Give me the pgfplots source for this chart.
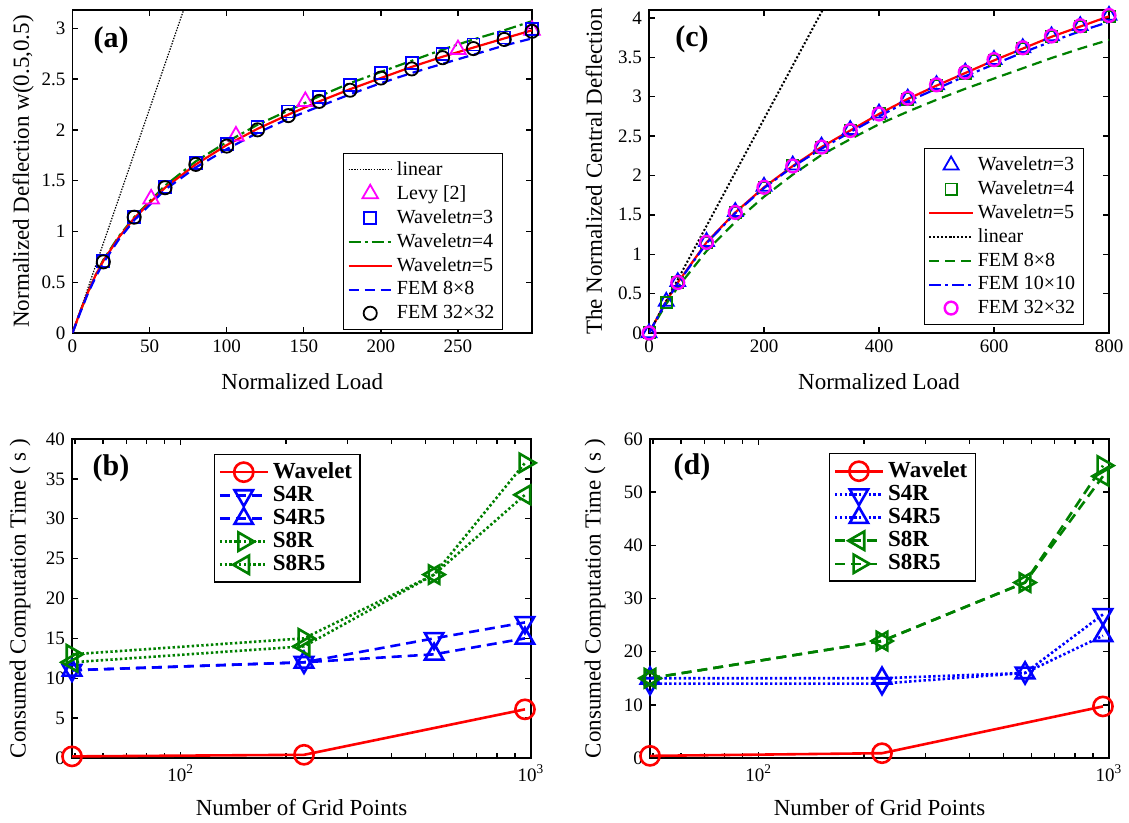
\documentclass[border=0pt]{standalone}
\usepackage{pgfplots}
\pgfplotsset{compat=1.18}
\usepackage{fontspec}
\setmainfont{Liberation Serif}
\definecolor{mgreen}{RGB}{0,128,0}
\definecolor{mblue}{RGB}{0,0,255}
\definecolor{mred}{RGB}{255,0,0}
\definecolor{mmag}{RGB}{255,0,255}

\pgfplotsset{
 mystyle/.style={
  scale only axis,
  axis line style={line width=0.9pt},
  every tick/.style={black, line width=0.7pt},
  tick align=inside,
  major tick length=3pt,
  minor tick length=2.5pt,
  /pgf/number format/assume math mode=true,
  tick label style={font=\fontsize{9.5}{10}\selectfont},
  label style={font=\fontsize{11.5}{12}\selectfont},
  legend cell align=left,
  legend image code/.code={\draw[mark repeat=2,mark phase=2,##1] plot coordinates {(0cm,0cm) (0.38cm,0cm) (0.76cm,0cm)};},
  legend style={font=\fontsize{10}{11}\selectfont, draw=black, line width=0.7pt, inner sep=2pt, row sep=-0.4pt},
 },
 ldot/.style={dash pattern=on 0.8pt off 0.8pt},
 ldash/.style={dash pattern=on 5pt off 3pt},
 ldd/.style={dash pattern=on 6pt off 2pt on 1.5pt off 2pt},
}

\begin{document}
\begin{tikzpicture}
\path[use as bounding box] (0,0) rectangle (564.5pt,411.5pt);

% ---------------- (a) ----------------
\begin{axis}[mystyle, at={(36.25pt,245pt)}, anchor=south west,
  width=229.75pt, height=161.5pt,
  xmin=0, xmax=298, ymin=0, ymax=3.18,
  xtick={0,50,...,250}, ytick={0,0.5,...,3},
  xlabel={Normalized Load}, ylabel={Normalized Deflection w(0.5,0.5)},
  xlabel style={at={(axis description cs:0.5,-0.1517)}, anchor=center},
  ylabel style={at={(axis description cs:-0.107,0.5)}, anchor=center},
  legend style={at={(0.937,0.009)}, anchor=south east}]
\addplot[black, line width=0.6pt, dash pattern=on 0.7pt off 0.7pt] coordinates {(0,0) (75,3.31)};
\addlegendentry{linear}
\addplot[only marks, mark=triangle, mark size=4.5pt, mmag, line width=0.9pt] coordinates {
(51,1.32) (106,1.94) (151,2.28) (250,2.79) (298,2.98)};
\addlegendentry{Levy [2]}
\addplot[only marks, mark=square, mark size=3pt, mblue, line width=0.9pt] coordinates {
(20,0.71) (40,1.14) (60,1.44) (80,1.67) (100,1.86) (120,2.03) (140,2.18) (160,2.32) (180,2.44) (200,2.56) (220,2.66) (240,2.75) (260,2.84) (280,2.91) (298,2.99)};
\addlegendentry{Wavelet\textit{n}=3}
\addplot[mgreen, line width=1.1pt, ldd] coordinates {
(0,0) (5,0.21) (10,0.40) (15,0.57) (20,0.72) (30,0.95) (40,1.14) (60,1.45) (80,1.69) (100,1.88) (120,2.05) (140,2.19) (160,2.33) (180,2.46) (200,2.57) (220,2.68) (240,2.79) (260,2.89) (280,2.98) (298,3.07)};
\addlegendentry{Wavelet\textit{n}=4}
\addplot[mred, line width=1.1pt] coordinates {
(0,0) (5,0.21) (10,0.40) (15,0.57) (20,0.71) (30,0.94) (40,1.13) (60,1.43) (80,1.66) (100,1.85) (120,2.01) (140,2.15) (160,2.28) (180,2.40) (200,2.51) (220,2.62) (240,2.72) (260,2.81) (280,2.90) (298,2.98)};
\addlegendentry{Wavelet\textit{n}=5}
\addplot[mblue, line width=1.1pt, ldash] coordinates {
(0,0) (5,0.20) (10,0.39) (15,0.55) (20,0.69) (30,0.92) (40,1.11) (60,1.41) (80,1.63) (100,1.81) (120,1.97) (140,2.11) (160,2.23) (180,2.35) (200,2.46) (220,2.56) (240,2.65) (260,2.74) (280,2.83) (298,2.90)};
\addlegendentry{FEM 8×8}
\addplot[only marks, mark=o, mark size=3.3pt, black, line width=0.9pt] coordinates {
(20,0.70) (40,1.14) (60,1.43) (80,1.66) (100,1.84) (120,2.00) (140,2.14) (160,2.28) (180,2.39) (200,2.51) (220,2.60) (240,2.71) (260,2.80) (280,2.89) (298,2.97)};
\addlegendentry{FEM 32×32}
\node at (rel axis cs:0.084,0.907) {\fontsize{15}{15}\selectfont\bfseries (a)};
\end{axis}

% ---------------- (c) ----------------
\begin{axis}[mystyle, at={(324.5pt,245pt)}, anchor=south west,
  width=230pt, height=161.5pt,
  xmin=0, xmax=800, ymin=0, ymax=4.1,
  xtick={0,200,...,800}, ytick={0,0.5,...,4},
  xlabel={Normalized Load}, ylabel={The Normalized Central Deflection},
  xlabel style={at={(axis description cs:0.5,-0.1517)}, anchor=center},
  ylabel style={at={(axis description cs:-0.12,0.5)}, anchor=center},
  legend style={at={(0.9455,0.025)}, anchor=south east}]
\addplot[only marks, mark=triangle, mark size=4.3pt, mblue, line width=0.9pt] coordinates {
(0,0) (30,0.40) (50,0.65) (100,1.16) (150,1.54) (200,1.86) (250,2.13) (300,2.37) (350,2.58) (400,2.79) (450,2.98) (500,3.15) (550,3.31) (600,3.47) (650,3.62) (700,3.77) (750,3.90) (800,4.03)};
\addlegendentry{Wavelet\textit{n}=3}
\addplot[only marks, mark=square, mark size=2.8pt, mgreen, line width=0.9pt] coordinates {
(0,0) (30,0.39) (50,0.64) (100,1.15) (150,1.53) (200,1.85) (250,2.12) (300,2.36) (350,2.57) (400,2.78) (450,2.97) (500,3.14) (550,3.30) (600,3.46) (650,3.61) (700,3.76) (750,3.89) (800,4.02)};
\addlegendentry{Wavelet\textit{n}=4}
\addplot[mred, line width=1.1pt] coordinates {
(0,0) (30,0.40) (50,0.64) (100,1.15) (150,1.53) (200,1.85) (250,2.12) (300,2.36) (350,2.57) (400,2.78) (450,2.97) (500,3.14) (550,3.30) (600,3.46) (650,3.61) (700,3.76) (750,3.89) (800,4.02)};
\addlegendentry{Wavelet\textit{n}=5}
\addplot[black, line width=1pt, dash pattern=on 1pt off 1pt] coordinates {(0,0) (310,4.21)};
\addlegendentry{linear}
\addplot[mgreen, line width=1.1pt, ldash] coordinates {
(0,0) (30,0.37) (50,0.58) (100,1.04) (150,1.41) (200,1.73) (250,2.01) (300,2.26) (350,2.46) (400,2.65) (450,2.81) (500,2.96) (550,3.10) (600,3.23) (650,3.36) (700,3.49) (750,3.61) (800,3.72)};
\addlegendentry{FEM 8×8}
\addplot[mblue, line width=1.1pt, ldd] coordinates {
(0,0) (30,0.40) (50,0.63) (100,1.14) (150,1.52) (200,1.84) (250,2.11) (300,2.34) (350,2.55) (400,2.75) (450,2.94) (500,3.10) (550,3.26) (600,3.41) (650,3.56) (700,3.70) (750,3.83) (800,3.95)};
\addlegendentry{FEM 10×10}
\addplot[only marks, mark=o, mark size=3.2pt, mmag, line width=1.2pt] coordinates {
(0,0) (50,0.64) (100,1.15) (150,1.53) (200,1.85) (250,2.12) (300,2.36) (350,2.57) (400,2.78) (450,2.98) (500,3.15) (550,3.31) (600,3.47) (650,3.62) (700,3.77) (750,3.90) (800,4.03)};
\addlegendentry{FEM 32×32}
\node at (rel axis cs:0.0935,0.91) {\fontsize{15}{15}\selectfont\bfseries (c)};
\end{axis}

% ---------------- (b) ----------------
\begin{axis}[mystyle, at={(36pt,32.5pt)}, anchor=south west,
  width=229.5pt, height=159.5pt,
  xmode=log, xmin=49, xmax=1000, ymin=0, ymax=40,
  xtick={100,1000}, xticklabels={10\textsuperscript{2},10\textsuperscript{3}},
  minor xtick={50,60,70,80,90,200,300,400,500,600,700,800,900},
  ytick={0,5,...,40},
  xlabel={Number of Grid Points}, ylabel={Consumed Computation Time ( s )},
  xlabel style={at={(axis description cs:0.5,-0.1567)}, anchor=center},
  ylabel style={at={(axis description cs:-0.1133,0.5)}, anchor=center},
  legend image code/.code={\draw[mark repeat=2,mark phase=2,#1] plot coordinates {(0cm,0cm) (0.42cm,0cm) (0.84cm,0cm)};},
  legend style={at={(0.309,0.953)}, anchor=north west, row sep=-1.6pt, font=\fontsize{11.5}{12}\selectfont\bfseries}]
\addplot[mred, line width=1.3pt, mark=o, mark size=4.8pt, mark options={solid}] coordinates {(49,0.2) (225,0.4) (961,6.1)};
\addlegendentry{Wavelet}
\addplot[mblue, line width=1.3pt, ldash, mark=triangle, mark size=5.3pt, mark options={solid, rotate=180}] coordinates {(49,11) (225,12) (529,15) (961,17)};
\addlegendentry{S4R}
\addplot[mblue, line width=1.3pt, ldash, mark=triangle, mark size=5.3pt, mark options={solid}] coordinates {(49,11) (225,12) (529,13) (961,15)};
\addlegendentry{S4R5}
\addplot[mgreen, line width=1.3pt, dash pattern=on 1.2pt off 1.2pt, mark=triangle, mark size=5.3pt, mark options={solid, rotate=-90}] coordinates {(49,13) (225,15) (529,23) (961,37)};
\addlegendentry{S8R}
\addplot[mgreen, line width=1.3pt, dash pattern=on 1.2pt off 1.2pt, mark=triangle, mark size=5.3pt, mark options={solid, rotate=90}] coordinates {(49,12) (225,14) (529,23) (961,33)};
\addlegendentry{S8R5}
\node at (rel axis cs:0.085,0.909) {\fontsize{15}{15}\selectfont\bfseries (b)};
\end{axis}

% ---------------- (d) ----------------
\begin{axis}[mystyle, at={(325pt,32.5pt)}, anchor=south west,
  width=229.5pt, height=159.5pt,
  xmode=log, xmin=49, xmax=1000, ymin=0, ymax=60,
  xtick={100,1000}, xticklabels={10\textsuperscript{2},10\textsuperscript{3}},
  minor xtick={50,60,70,80,90,200,300,400,500,600,700,800,900},
  ytick={0,10,...,60},
  xlabel={Number of Grid Points}, ylabel={Consumed Computation Time ( s )},
  xlabel style={at={(axis description cs:0.5,-0.1567)}, anchor=center},
  ylabel style={at={(axis description cs:-0.1198,0.5)}, anchor=center},
  legend image code/.code={\draw[mark repeat=2,mark phase=2,#1] plot coordinates {(0cm,0cm) (0.42cm,0cm) (0.84cm,0cm)};},
  legend style={at={(0.390,0.956)}, anchor=north west, row sep=-1.6pt, font=\fontsize{11.5}{12}\selectfont\bfseries}]
\addplot[mred, line width=1.3pt, mark=o, mark size=4.8pt, mark options={solid}] coordinates {(49,0.4) (225,0.9) (961,9.7)};
\addlegendentry{Wavelet}
\addplot[mblue, line width=1.3pt, dash pattern=on 1.2pt off 1.2pt, mark=triangle, mark size=5.3pt, mark options={solid, rotate=180}] coordinates {(49,14) (225,14) (576,16) (961,27)};
\addlegendentry{S4R}
\addplot[mblue, line width=1.3pt, dash pattern=on 1.2pt off 1.2pt, mark=triangle, mark size=5.3pt, mark options={solid}] coordinates {(49,15) (225,15) (576,16) (961,23)};
\addlegendentry{S4R5}
\addplot[mgreen, line width=1.3pt, ldash, mark=triangle, mark size=5.3pt, mark options={solid, rotate=90}] coordinates {(49,15) (225,22) (576,33) (961,53)};
\addlegendentry{S8R}
\addplot[mgreen, line width=1.3pt, ldash, mark=triangle, mark size=5.3pt, mark options={solid, rotate=-90}] coordinates {(49,15) (225,22) (576,33) (961,55)};
\addlegendentry{S8R5}
\node at (rel axis cs:0.0915,0.912) {\fontsize{15}{15}\selectfont\bfseries (d)};
\end{axis}
\end{tikzpicture}
\end{document}
